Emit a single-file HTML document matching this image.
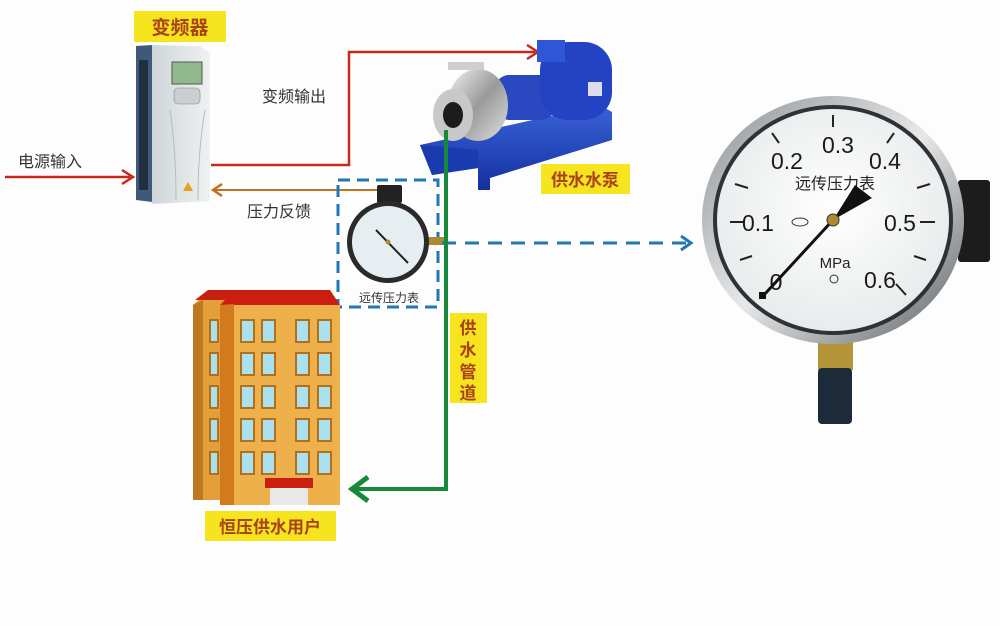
<!DOCTYPE html>
<html><head><meta charset="utf-8"><style>
html,body{margin:0;padding:0;background:#fff;}
svg{display:block;}
text{font-family:"Liberation Sans","Noto Sans CJK SC",sans-serif;}
</style></head><body>
<svg width="1000" height="626" viewBox="0 0 1000 626" xmlns="http://www.w3.org/2000/svg">
<rect width="1000" height="626" fill="#fdfdfd"/>
<defs>
<linearGradient id="inv" x1="0" x2="1"><stop offset="0" stop-color="#cfd6d8"/><stop offset="1" stop-color="#eef1f1"/></linearGradient>
<radialGradient id="face" cx="0.5" cy="0.45" r="0.6"><stop offset="0" stop-color="#ffffff"/><stop offset="1" stop-color="#e6e9ea"/></radialGradient>
<linearGradient id="rim" x1="0" y1="0" x2="1" y2="1"><stop offset="0" stop-color="#8a9094"/><stop offset="0.5" stop-color="#e8e8e8"/><stop offset="1" stop-color="#5b6064"/></linearGradient>
<linearGradient id="pumpb" x1="0" y1="0" x2="0" y2="1"><stop offset="0" stop-color="#3a63d8"/><stop offset="1" stop-color="#1330a0"/></linearGradient>
<linearGradient id="steel" x1="0" y1="0" x2="1" y2="1"><stop offset="0" stop-color="#f2f2f2"/><stop offset="0.5" stop-color="#9a9a9a"/><stop offset="1" stop-color="#e0e0e0"/></linearGradient>
</defs>

<rect x="134" y="11" width="92" height="31" fill="#f6e51e"/>
<text x="180" y="34" font-size="19" font-weight="bold" fill="#a8421a" text-anchor="middle">变频器</text>

<polygon points="136,46 152,45 152,202 136,200" fill="#3f5a78"/>
<rect x="139" y="60" width="9" height="130" fill="#20303e"/>
<polygon points="152,45 200,46 210,53 210,201 152,204" fill="url(#inv)"/>
<rect x="172" y="62" width="30" height="22" fill="#91b98d" stroke="#555" stroke-width="1"/>
<rect x="174" y="88" width="26" height="16" rx="4" fill="#c9cfd0" stroke="#888" stroke-width="0.6"/>
<path d="M170 110 Q176 150 176 200 M205 110 Q198 150 198 200" stroke="#b5bcbe" fill="none"/>
<polygon points="188,182 183,191 193,191" fill="#e8a020"/>

<text x="18" y="167" font-size="16" fill="#333">电源输入</text>
<line x1="5" y1="177" x2="130" y2="177" stroke="#c8281c" stroke-width="2.5"/>
<path d="M122 170 L133 177 L122 184" stroke="#c8281c" stroke-width="2.5" fill="none"/>

<polyline points="211,165 349,165 349,52 535,52" stroke="#c8281c" stroke-width="2.5" fill="none"/>
<path d="M527 45 L538 52 L527 59" stroke="#c8281c" stroke-width="2.5" fill="none"/>
<text x="262" y="102" font-size="16" fill="#333">变频输出</text>

<line x1="214" y1="190" x2="378" y2="190" stroke="#c0701e" stroke-width="2"/>
<path d="M222 184 L213 190 L222 196" stroke="#c0701e" stroke-width="2.5" fill="none"/>
<text x="247" y="217" font-size="16" fill="#333">压力反馈</text>

<rect x="338" y="180" width="100" height="127" fill="none" stroke="#1f78b4" stroke-width="3" stroke-dasharray="12,7"/>
<rect x="377" y="185" width="25" height="18" rx="2" fill="#222"/>
<rect x="428" y="237" width="18" height="8" fill="#b08830"/>
<circle cx="388" cy="242" r="41" fill="#2a2a2a"/>
<circle cx="388" cy="242" r="36" fill="#e7eef2"/>
<line x1="376" y1="230" x2="408" y2="263" stroke="#222" stroke-width="2"/>
<circle cx="388" cy="242" r="2.5" fill="#b08830"/>
<text x="389" y="302" font-size="12" fill="#333" text-anchor="middle">远传压力表</text>

<line x1="442" y1="243" x2="688" y2="243" stroke="#1f78b4" stroke-width="3" stroke-dasharray="14,9"/>
<path d="M681 236 L691 243 L681 250" stroke="#1f78b4" stroke-width="3" fill="none"/>

<!-- pump -->
<polygon points="420,145 600,105 612,112 612,140 490,178 490,190 478,190 478,168 432,175" fill="url(#pumpb)"/>
<polygon points="420,145 432,175 478,168 478,150" fill="#1a3ab0"/>
<rect x="495" y="75" width="60" height="45" rx="14" fill="#2a48c0"/>
<rect x="540" y="42" width="72" height="78" rx="28" fill="#2443c4"/>
<rect x="537" y="40" width="28" height="22" fill="#2f56d6"/>
<rect x="588" y="82" width="14" height="14" fill="#dde"/>
<ellipse cx="478" cy="105" rx="30" ry="36" fill="url(#steel)"/>
<rect x="448" y="62" width="36" height="8" fill="#cfcfcf"/>
<ellipse cx="453" cy="115" rx="20" ry="26" fill="#c8c8c8"/>
<ellipse cx="453" cy="115" rx="10" ry="13" fill="#1c1c1c"/>
<rect x="541" y="164" width="89" height="30" fill="#f6e51e"/>
<text x="585" y="186" font-size="17" font-weight="bold" fill="#a8421a" text-anchor="middle">供水水泵</text>

<polyline points="446,130 446,489 356,489" stroke="#17893a" stroke-width="4" fill="none"/>
<path d="M368 477 L352 489 L368 501" stroke="#17893a" stroke-width="5" fill="none"/>
<rect x="450" y="313" width="37" height="90" fill="#f6e51e"/>
<text font-size="17" font-weight="bold" fill="#a8421a" text-anchor="middle"><tspan x="468" y="334">供</tspan><tspan x="468" y="356">水</tspan><tspan x="468" y="378">管</tspan><tspan x="468" y="399">道</tspan></text>

<polygon points="193,305 210,290 290,290 290,500 193,500" fill="#e3a03a"/>
<polygon points="193,305 203,300 203,500 193,500" fill="#c07820"/>
<polygon points="195,300 208,290 300,290 300,300" fill="#c82010"/>
<polygon points="220,305 235,290 330,290 340,305" fill="#cc1e10"/>
<polygon points="220,305 234,304 234,505 220,505" fill="#d27a1e"/>
<rect x="234" y="305" width="106" height="200" fill="#eeb04a"/>
<g fill="#a9e1ef" stroke="#b07020" stroke-width="2">
<rect x="241" y="320" width="13" height="22"/><rect x="262" y="320" width="13" height="22"/><rect x="296" y="320" width="13" height="22"/><rect x="318" y="320" width="13" height="22"/>
<rect x="241" y="353" width="13" height="22"/><rect x="262" y="353" width="13" height="22"/><rect x="296" y="353" width="13" height="22"/><rect x="318" y="353" width="13" height="22"/>
<rect x="241" y="386" width="13" height="22"/><rect x="262" y="386" width="13" height="22"/><rect x="296" y="386" width="13" height="22"/><rect x="318" y="386" width="13" height="22"/>
<rect x="241" y="419" width="13" height="22"/><rect x="262" y="419" width="13" height="22"/><rect x="296" y="419" width="13" height="22"/><rect x="318" y="419" width="13" height="22"/>
<rect x="241" y="452" width="13" height="22"/><rect x="262" y="452" width="13" height="22"/><rect x="296" y="452" width="13" height="22"/><rect x="318" y="452" width="13" height="22"/>
<rect x="210" y="320" width="8" height="22"/><rect x="210" y="353" width="8" height="22"/><rect x="210" y="386" width="8" height="22"/><rect x="210" y="419" width="8" height="22"/><rect x="210" y="452" width="8" height="22"/>
</g>
<rect x="265" y="478" width="48" height="10" fill="#cc1e10"/>
<rect x="270" y="488" width="38" height="17" fill="#e8e8e8"/>
<rect x="205" y="511" width="131" height="30" fill="#f6e51e"/>
<text x="270" y="533" font-size="17" font-weight="bold" fill="#a8421a" text-anchor="middle">恒压供水用户</text>

<rect x="958" y="180" width="32" height="82" rx="3" fill="#1c1c1c"/>
<rect x="818" y="338" width="35" height="32" fill="#b5953a"/>
<rect x="818" y="368" width="34" height="56" rx="4" fill="#1d2a3a"/>
<ellipse cx="833" cy="220" rx="131" ry="124" fill="url(#rim)"/>
<ellipse cx="833" cy="220" rx="120" ry="115" fill="#2e3236"/>
<ellipse cx="833" cy="220" rx="116" ry="111" fill="url(#face)"/>
<g stroke="#222" stroke-width="2">
<line x1="833" y1="115" x2="833" y2="127"/>
<line x1="772" y1="133" x2="779" y2="143"/>
<line x1="894" y1="133" x2="887" y2="143"/>
<line x1="735" y1="184" x2="748" y2="188"/>
<line x1="930" y1="184" x2="917" y2="188"/>
<line x1="730" y1="222" x2="745" y2="222"/>
<line x1="935" y1="222" x2="920" y2="222"/>
<line x1="740" y1="260" x2="752" y2="256"/>
<line x1="926" y1="260" x2="914" y2="256"/>
<line x1="896" y1="284" x2="906" y2="295"/>
</g>
<g font-size="23" fill="#1a1a1a" text-anchor="middle">
<text x="838" y="153">0.3</text>
<text x="787" y="169">0.2</text>
<text x="885" y="169">0.4</text>
<text x="758" y="231">0.1</text>
<text x="900" y="231">0.5</text>
<text x="776" y="290">0</text>
<text x="880" y="288">0.6</text>
</g>
<text x="835" y="189" font-size="16" fill="#222" text-anchor="middle">远传压力表</text>
<text x="835" y="268" font-size="15" fill="#222" text-anchor="middle">MPa</text>
<ellipse cx="800" cy="222" rx="8" ry="4" fill="none" stroke="#333"/>
<circle cx="834" cy="279" r="4" fill="none" stroke="#333"/>
<line x1="763" y1="296" x2="833" y2="220" stroke="#111" stroke-width="3"/>
<polygon points="833,220 855,185 872,198" fill="#111"/>
<rect x="759" y="292" width="7" height="7" fill="#111"/>
<circle cx="833" cy="220" r="6" fill="#b08830" stroke="#333"/>
</svg>
</body></html>
